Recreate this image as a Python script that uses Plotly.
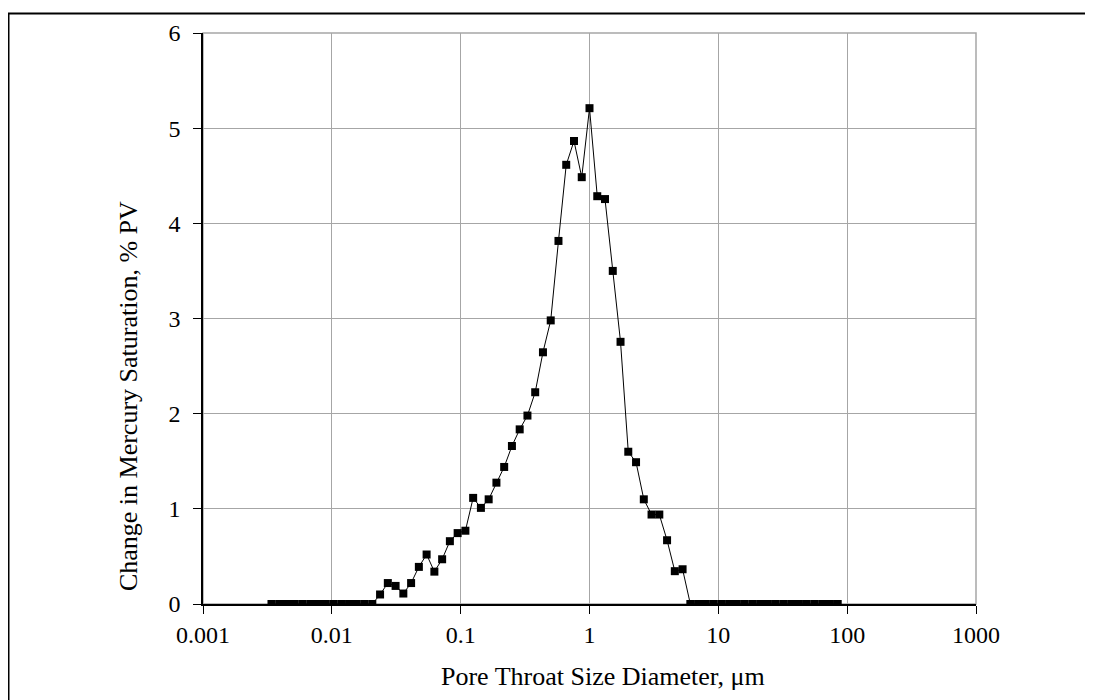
import plotly.graph_objects as go

# Pore throat diameters (µm)
diameter_um = [
    0.0034006, 0.0039063, 0.0044871, 0.0051543, 0.0059208, 0.0068012, 0.0078125,
    0.0089742, 0.0103087, 0.0118415, 0.0136024, 0.015625, 0.0179484, 0.0206173,
    0.0236831, 0.0272047, 0.03125, 0.0358968, 0.0412346, 0.0473662, 0.0544094,
    0.0625, 0.0717936, 0.0824693, 0.0947323, 0.1088188, 0.125, 0.1435873,
    0.1649385, 0.1894646, 0.2176376, 0.25, 0.2871745, 0.329877, 0.3789293,
    0.4352753, 0.5, 0.5743492, 0.659754, 0.7578583, 0.8705506, 1.0,
    1.148698, 1.319508, 1.515717, 1.741101, 2.0, 2.297397, 2.639016,
    3.031433, 3.482202, 4.0, 4.594793, 5.278032, 6.062866, 6.964405,
    8.0, 9.189587, 10.556063, 12.125733, 13.928809, 16.0, 18.379174,
    21.112127, 24.251465, 27.857618, 32.0, 36.758347, 42.224253, 48.50293,
    55.715236, 64.0, 73.516695, 84.448506,
]

# Change in mercury saturation (% PV)
delta_sat = [
    0, 0, 0, 0, 0, 0, 0, 0, 0, 0, 0, 0, 0, 0,
    0.10, 0.22, 0.19, 0.11, 0.22, 0.39, 0.52, 0.34, 0.47, 0.66, 0.745, 0.77,
    1.115, 1.01, 1.10, 1.275, 1.44, 1.66, 1.835, 1.98, 2.225, 2.645, 2.98,
    3.815, 4.615, 4.865, 4.485, 5.21, 4.285, 4.255, 3.50,
    2.755, 1.60, 1.49, 1.10, 0.94, 0.94, 0.67, 0.345, 0.365,
    0, 0, 0, 0, 0, 0, 0, 0, 0, 0, 0, 0, 0, 0, 0, 0, 0, 0, 0, 0,
]

x_tickvals = [0.001, 0.01, 0.1, 1, 10, 100, 1000]
x_ticktext = ["0.001", "0.01", "0.1", "1", "10", "100", "1000"]
y_tickvals = [0, 1, 2, 3, 4, 5, 6]

x_title = "Pore Throat Size Diameter, μm"
y_title = "Change in Mercury Saturation, % PV"

FONT = "Liberation Serif, Times New Roman, serif"
GRID = "#a6a6a6"
TICK_SIZE = 24
TITLE_SIZE = 26

fig = go.Figure()
fig.add_trace(go.Scatter(
    x=diameter_um, y=delta_sat, mode="lines+markers",
    line=dict(color="black", width=1),
    marker=dict(symbol="square", size=8, color="black"),
    showlegend=False,
))

W, H = 1093, 700
L, R, T, B = 195, 125, 22, 104
pw, ph = W - L - R, H - T - B


def px(xf):
    return (xf - L) / pw


def py(yf):
    return (H - B - yf) / ph


fig.update_layout(
    width=W, height=H,
    margin=dict(l=L, r=R, t=T, b=B, pad=0),
    paper_bgcolor="white", plot_bgcolor="white",
    font=dict(family=FONT, size=TICK_SIZE, color="black"),
    xaxis=dict(
        type="log", range=[-3, 3], tickvals=x_tickvals, ticktext=x_ticktext,
        showgrid=True, gridcolor=GRID, gridwidth=1,
        showline=True, linecolor="black", linewidth=1.5,
        ticks="outside", ticklen=8, tickcolor="black", tickwidth=1,
        zeroline=False, ticklabelstandoff=0,
        tickfont=dict(family=FONT, size=TICK_SIZE, color="black"),
    ),
    yaxis=dict(
        range=[0, 6], tickvals=y_tickvals,
        showgrid=True, gridcolor=GRID, gridwidth=1,
        showline=True, linecolor="black", linewidth=1.5,
        ticks="outside", ticklen=8, tickcolor="black", tickwidth=1,
        zeroline=False, ticklabelstandoff=8,
        tickfont=dict(family=FONT, size=TICK_SIZE, color="black"),
    ),
    shapes=[
        dict(type="rect", xref="paper", yref="paper", x0=0, x1=1, y0=0, y1=1,
             line=dict(color=GRID, width=1.5), layer="below"),
        dict(type="rect", xref="paper", yref="paper",
             x0=px(0.5), x1=px(1200),
             y0=py(760), y1=py(2.3),
             line=dict(color="black", width=2), layer="above"),
    ],
    annotations=[
        dict(text=x_title, xref="paper", yref="paper",
             x=px(595), y=py(669), showarrow=False,
             xanchor="center", yanchor="middle",
             font=dict(family=FONT, size=TITLE_SIZE, color="black")),
        dict(text=y_title, xref="paper", yref="paper",
             x=px(120), y=py(387), showarrow=False,
             textangle=-90, xanchor="center", yanchor="middle",
             font=dict(family=FONT, size=TITLE_SIZE, color="black")),
    ],
)

fig.write_html("out.html")
